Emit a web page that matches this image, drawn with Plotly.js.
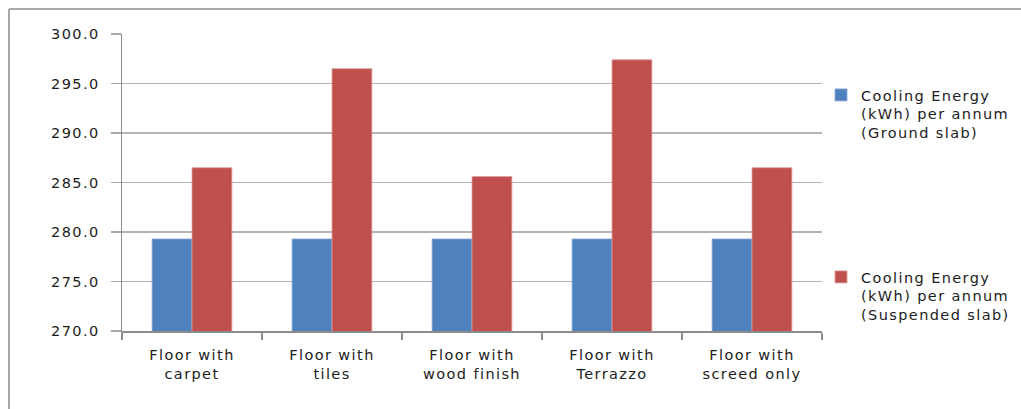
<!DOCTYPE html>
<html>
<head>
<meta charset="utf-8">
<script src="https://cdn.plot.ly/plotly-3.0.1.min.js"></script>
<style>
  html, body { margin: 0; padding: 0; background: #fff; }
  #chart { width: 1021px; height: 409px; }
  svg text { letter-spacing: 1.4px; }
</style>
</head>
<body>
<div id="chart"></div>
<script>
const categories = [
  "Floor with<br>carpet",
  "Floor with<br>tiles",
  "Floor with<br>wood finish",
  "Floor with<br>Terrazzo",
  "Floor with<br>screed only"
];
const groundSlab = [279.3, 279.3, 279.3, 279.3, 279.3];
const suspendedSlab = [286.5, 296.5, 285.6, 297.4, 286.5];
const seriesNames = [
  "Cooling Energy<br>(kWh) per annum<br>(Ground slab)",
  "Cooling Energy<br>(kWh) per annum<br>(Suspended slab)"
];
const yTicks = [270, 275, 280, 285, 290, 295, 300];

const W = 1021, H = 409;
const M = { l: 122, r: 199, t: 34, b: 78, autoexpand: false };
const pw = W - M.l - M.r, ph = H - M.t - M.b;
const px = x => (x - M.l) / pw;
const py = y => (H - M.b - y) / ph;

const font = { family: "DejaVu Sans, sans-serif", size: 14.5, color: "#1c1c1c" };

const traces = [
  {
    type: "bar", x: categories, y: groundSlab, name: seriesNames[0],
    marker: { color: "#4F81BD", line: { color: "#8EAAD6", width: 0.8 } },
    legend: "legend"
  },
  {
    type: "bar", x: categories, y: suspendedSlab, name: seriesNames[1],
    marker: { color: "#C0504D", line: { color: "#E0A0A0", width: 0.8 } },
    legend: "legend2"
  }
];

const layout = {
  width: W, height: H,
  margin: M,
  paper_bgcolor: "#fff", plot_bgcolor: "#fff",
  font: font,
  barmode: "group",
  bargap: 0.43,
  bargroupgap: 0,
  showlegend: true,
  xaxis: {
    type: "category",
    showline: true, linecolor: "#8c8c8c", linewidth: 1.5,
    ticks: "outside", tickson: "boundaries", ticklen: 7, tickcolor: "#8c8c8c", tickwidth: 1.5,
    showgrid: false,
    tickfont: font,
    ticklabelstandoff: 10
  },
  yaxis: {
    range: [270, 300],
    tickvals: yTicks,
    ticktext: yTicks.map(v => v.toFixed(1)),
    showline: true, linecolor: "#8c8c8c", linewidth: 1.5,
    ticks: "outside", ticklen: 10, tickcolor: "#a8a8a8", tickwidth: 1.5,
    showgrid: true, gridcolor: "#b4b4b4", gridwidth: 1.5,
    zeroline: false,
    tickfont: font,
    ticklabelstandoff: 8
  },
  legend: {
    x: px(821), xanchor: "left", y: py(79), yanchor: "top",
    valign: "top", font: font, itemwidth: 30, bgcolor: "rgba(0,0,0,0)"
  },
  legend2: {
    x: px(821), xanchor: "left", y: py(261), yanchor: "top",
    valign: "top", font: font, itemwidth: 30, bgcolor: "rgba(0,0,0,0)"
  },
  shapes: [
    { type: "line", xref: "paper", yref: "paper", x0: px(9), x1: px(1021), y0: py(9), y1: py(9),
      line: { color: "#a8a8a8", width: 2 } },
    { type: "line", xref: "paper", yref: "paper", x0: px(9), x1: px(9), y0: py(9), y1: py(409),
      line: { color: "#a8a8a8", width: 2 } }
  ]
};

Plotly.newPlot("chart", traces, layout, { displayModeBar: false, staticPlot: true });
</script>
</body>
</html>
